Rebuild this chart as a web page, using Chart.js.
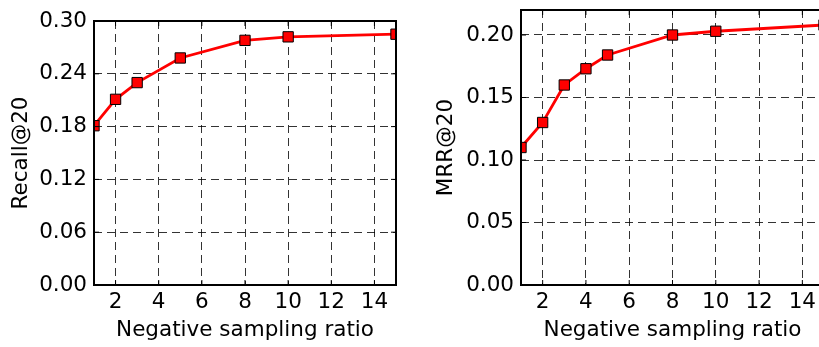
<!DOCTYPE html>
<html>
<head>
<meta charset="utf-8">
<script src="https://cdn.jsdelivr.net/npm/chart.js@4/dist/chart.umd.min.js"></script>
<style>
  html, body { margin: 0; padding: 0; background: #fff; overflow: hidden; width: 819px; height: 347px; }
  #left { position: absolute; left: 0; top: 0; }
  #right { position: absolute; left: 410px; top: 0; }
</style>
</head>
<body>
<canvas id="left" width="410" height="347"></canvas>
<canvas id="right" width="430" height="347"></canvas>
<script>
// values
var recallRatio = [1, 2, 3, 5, 8, 10, 15];
var recallValues = [0.181, 0.211, 0.230, 0.258, 0.278, 0.282, 0.285];
var mrrRatio = [1, 2, 3, 4, 5, 8, 10, 15];
var mrrValues = [0.110, 0.130, 0.160, 0.173, 0.184, 0.200, 0.203, 0.208];
var ratioTicks = [2, 4, 6, 8, 10, 12, 14];
var recallTicks = [0, 0.06, 0.12, 0.18, 0.24, 0.30];
var mrrTicks = [0, 0.05, 0.10, 0.15, 0.20];

var font = { family: "'DejaVu Sans', sans-serif", size: 21.5 };

// frame + inward tick marks like matplotlib classic style
var framePlugin = {
  id: 'frame',
  afterDraw: function(chart) {
    var c = chart.ctx, a = chart.chartArea;
    var xs = chart.scales.x, ys = chart.scales.y;
    c.save();
    c.beginPath();
    c.rect(a.left, a.top, a.right - a.left, a.bottom - a.top);
    c.clip();
    c.strokeStyle = '#000';
    c.lineWidth = 1;
    c.beginPath();
    xs.ticks.forEach(function(t) {
      var px = xs.getPixelForValue(t.value);
      c.moveTo(px, a.bottom); c.lineTo(px, a.bottom - 5);
      c.moveTo(px, a.top); c.lineTo(px, a.top + 5);
    });
    ys.ticks.forEach(function(t) {
      var py = ys.getPixelForValue(t.value);
      c.moveTo(a.left, py); c.lineTo(a.left + 5, py);
      c.moveTo(a.right, py); c.lineTo(a.right - 5, py);
    });
    c.stroke();
    c.restore();
    c.save();
    c.strokeStyle = '#000';
    c.lineWidth = 2;
    c.strokeRect(a.left, a.top, a.right - a.left, a.bottom - a.top);
    c.restore();
  }
};

function makeChart(id, xs, ys, yTicks, yMax, yLabel, yWidth, titlePad, pad) {
  var pts = [];
  for (var i = 0; i < xs.length; i++) pts.push({ x: xs[i], y: ys[i] });
  return new Chart(document.getElementById(id), {
    type: 'line',
    data: {
      datasets: [{
        data: pts,
        borderColor: 'rgb(255,0,0)',
        borderWidth: 2.8,
        backgroundColor: 'rgb(255,0,0)',
        pointStyle: 'rect',
        pointRadius: 7.3,
        pointHoverRadius: 7.3,
        pointBorderColor: '#000',
        pointBorderWidth: 1,
        pointBackgroundColor: 'rgb(255,0,0)',
        tension: 0,
        clip: 0
      }]
    },
    options: {
      responsive: false,
      animation: false,
      devicePixelRatio: 1,
      layout: { padding: pad },
      plugins: { legend: { display: false }, tooltip: { enabled: false } },
      scales: {
        x: {
          type: 'linear',
          min: 1,
          max: 15,
          afterBuildTicks: function(s) { s.ticks = ratioTicks.map(function(v) { return { value: v }; }); },
          afterFit: function(s) { s.height = 62; s.paddingLeft = 0; s.paddingRight = 0; },
          grid: { color: 'rgba(0,0,0,0.8)', lineWidth: 1, drawTicks: false },
          border: { display: false, dash: [8, 5] },
          ticks: { color: '#000', font: font, padding: 5, maxRotation: 0 },
          title: { display: true, text: 'Negative sampling ratio', color: '#000', font: font, padding: { top: 0, bottom: 4 } }
        },
        y: {
          type: 'linear',
          min: 0,
          max: yMax,
          afterBuildTicks: function(s) { s.ticks = yTicks.map(function(v) { return { value: v }; }); },
          afterFit: function(s) { s.width = yWidth; s.paddingTop = 0; s.paddingBottom = 0; },
          grid: { color: 'rgba(0,0,0,0.8)', lineWidth: 1, drawTicks: false },
          border: { display: false, dash: [8, 5] },
          ticks: { color: '#000', font: font, padding: 7, callback: function(v) { return Number(v).toFixed(2); } },
          title: { display: true, text: yLabel, color: '#000', font: font, padding: { top: titlePad, bottom: 0 } }
        }
      }
    },
    plugins: [framePlugin]
  });
}

makeChart('left', recallRatio, recallValues, recallTicks, 0.30, 'Recall@20', 94, 9, { top: 21, right: 14, left: 0, bottom: 0 });
makeChart('right', mrrRatio, mrrValues, mrrTicks, 0.22, 'MRR@20', 111, 24, { top: 10, right: 16, left: 0, bottom: 0 });
</script>
</body>
</html>
